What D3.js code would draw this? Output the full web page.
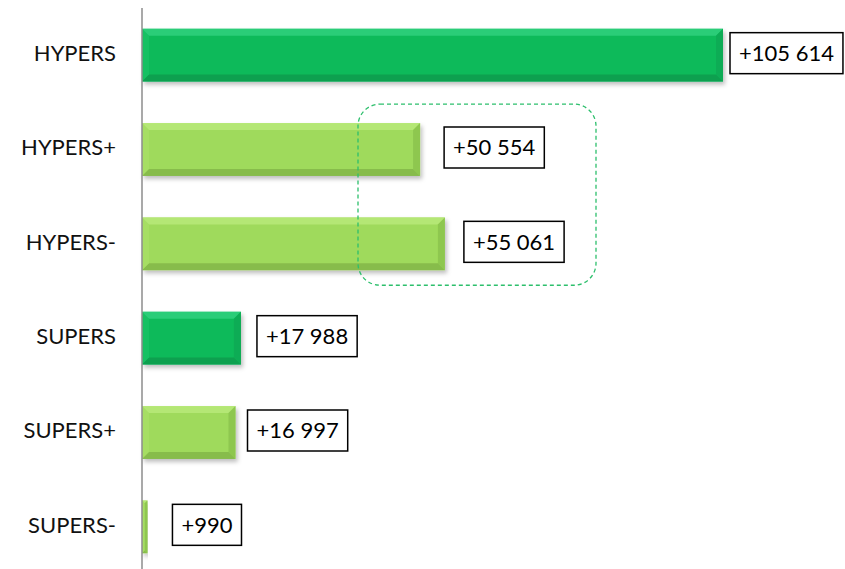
<!DOCTYPE html>
<html>
<head>
<meta charset="utf-8">
<title>HYPERS / SUPERS</title>
<script src="https://cdn.jsdelivr.net/npm/d3@7"></script>
<style>
  body { margin: 0; background: #fff; }
  text { font-family: Lato, "Liberation Sans", sans-serif; }
</style>
</head>
<body>
<script>
  // données
  var categories = ["HYPERS", "HYPERS+", "HYPERS-", "SUPERS", "SUPERS+", "SUPERS-"];
  var values = [105614, 50554, 55061, 17988, 16997, 990];
  var labels = ["+105 614", "+50 554", "+55 061", "+17 988", "+16 997", "+990"];
  var kinds = ["total", "sub", "sub", "total", "sub", "sub"];

  // décalage des étiquettes (placées à la main dans l'original)
  var labelGap = [7, 24, 19, 16, 12, 25];

  var width = 845, height = 569;
  var svg = d3.select("body").append("svg").attr("width", width).attr("height", height);

  var x = d3.scaleLinear().domain([0, 105614]).range([142, 723]);
  var y = d3.scaleBand().domain(categories).range([8, 574]).paddingInner(0.44).paddingOuter(0.22);

  var colors = {
    total: { base: "#0bba5a", light: "#3ad684", dark: "#079048", side: "#08a652" },
    sub:   { base: "#9fda5b", light: "#bdec80", dark: "#78a842", side: "#88bf4c" }
  };

  var defs = svg.append("defs");
  var f = defs.append("filter").attr("id", "shadow").attr("x", "-5%").attr("y", "-20%").attr("width", "115%").attr("height", "150%");
  f.append("feDropShadow").attr("dx", 2).attr("dy", 3).attr("stdDeviation", 2).attr("flood-color", "#000").attr("flood-opacity", 0.25);

  var data = categories.map(function (c, i) {
    return { cat: c, value: values[i], label: labels[i], kind: kinds[i], gap: labelGap[i] };
  });

  // barres biseautées
  var bars = svg.append("g").selectAll("g").data(data).enter().append("g").attr("filter", "url(#shadow)");
  bars.each(function (d) {
    var g = d3.select(this);
    var x0 = x(0), x1 = x(d.value), y0 = y(d.cat), y1 = y0 + y.bandwidth();
    var c = colors[d.kind];
    var b = Math.min(7, (x1 - x0) / 2);
    g.append("rect").attr("x", x0).attr("y", y0).attr("width", x1 - x0).attr("height", y1 - y0).attr("fill", c.base);
    g.append("polygon").attr("fill", c.light).attr("opacity", 0.7)
      .attr("points", [[x0, y0], [x1, y0], [x1 - b, y0 + b], [x0 + b, y0 + b]].join(" "));
    g.append("polygon").attr("fill", c.dark).attr("opacity", 0.6)
      .attr("points", [[x0, y1], [x1, y1], [x1 - b, y1 - b], [x0 + b, y1 - b]].join(" "));
    g.append("polygon").attr("fill", c.side).attr("opacity", 0.7)
      .attr("points", [[x1, y0], [x1, y1], [x1 - b, y1 - b], [x1 - b, y0 + b]].join(" "));
    g.append("polygon").attr("fill", c.light).attr("opacity", 0.25)
      .attr("points", [[x0, y0], [x0, y1], [x0 + b, y1 - b], [x0 + b, y0 + b]].join(" "));
  });

  // axe vertical
  svg.append("line").attr("x1", 142).attr("x2", 142).attr("y1", 8).attr("y2", 569)
    .attr("stroke", "#8c8c8c").attr("stroke-width", 1.5);

  // catégories
  svg.append("g").selectAll("text").data(data).enter().append("text")
    .attr("x", 116).attr("y", function (d) { return y(d.cat) + y.bandwidth() / 2 - 2; })
    .attr("dy", "0.35em").attr("text-anchor", "end").attr("font-size", 22).attr("fill", "#111")
    .text(function (d) { return d.cat; });

  // étiquettes encadrées
  var lab = svg.append("g").selectAll("g").data(data).enter().append("g");
  lab.each(function (d) {
    var g = d3.select(this);
    var t = g.append("text").attr("font-size", 22).attr("fill", "#000").text(d.label);
    var w = t.node().getComputedTextLength();
    var bx = x(d.value) + d.gap, cy = y(d.cat) + y.bandwidth() / 2 - 2;
    g.insert("rect", "text").attr("x", bx).attr("y", cy - 20.5).attr("width", w + 18).attr("height", 41)
      .attr("fill", "#fff").attr("stroke", "#000").attr("stroke-width", 1.5);
    t.attr("x", bx + 9).attr("y", cy).attr("dy", "0.35em");
  });

  // cadre pointillé autour de HYPERS+ / HYPERS-
  var boxTop = y("HYPERS+") - 19, boxBottom = y("HYPERS-") + y.bandwidth() + 15;
  svg.append("rect").attr("x", 358).attr("y", boxTop).attr("width", 238).attr("height", boxBottom - boxTop)
    .attr("rx", 22).attr("ry", 22).attr("fill", "none")
    .attr("stroke", "#2dbf6c").attr("stroke-width", 1.3).attr("stroke-dasharray", "4,3");
</script>
</body>
</html>
